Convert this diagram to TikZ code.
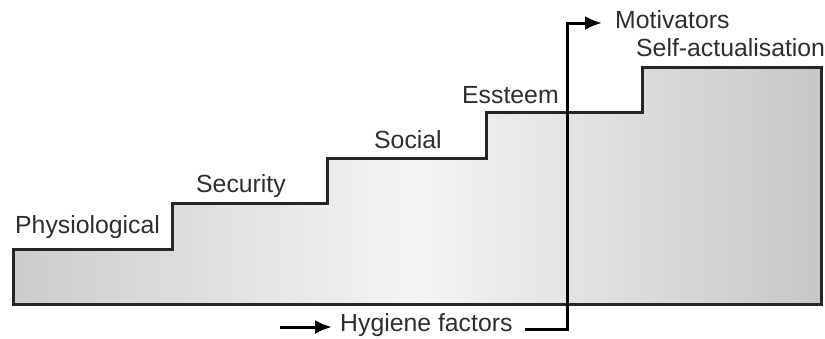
\documentclass[tikz,border=0pt]{standalone}
\usepackage{fontspec}
\setmainfont{Liberation Sans}
\usetikzlibrary{arrows.meta}
\begin{document}
\begin{tikzpicture}[x=1pt,y=-1pt,
  lbl/.style={font=\fontsize{24.8}{27}\selectfont, text=black!82, inner sep=0pt},
  stair/.style={draw=black!85, line width=3pt, line join=miter},
  flow/.style={draw=black, line width=3pt, -{Latex[length=17pt,width=14pt]}},
  plainline/.style={draw=black, line width=3pt}]
\useasboundingbox (0,0) rectangle (825,338);
\path[left color=black!20, right color=black!22, middle color=black!4]
  (13,304) -- (13,249) -- (172,249) -- (172,203) -- (327,203) -- (327,158) -- (486,158) -- (486,112) -- (642,112) -- (642,67) -- (821,67) -- (821,304) -- cycle;
\draw[stair] (13,304) -- (13,249) -- (172,249) -- (172,203) -- (327,203) -- (327,158) -- (486,158) -- (486,112) -- (642,112) -- (642,67) -- (821,67) -- (821,304) -- cycle;
\node[lbl, anchor=west] (phys) at (15,227) {Physiological};
\node[lbl, anchor=west] (sec) at (196,186) {Security};
\node[lbl, anchor=west] (soc) at (374,140) {Social};
\node[lbl, anchor=west] (est) at (462,95) {Essteem};
\node[lbl, anchor=west] (self) at (636,48) {Self-actualisation};
\node[lbl, anchor=west] (mot) at (615,20) {Motivators};
\node[lbl, anchor=west] (hyg) at (340,325) {Hygiene factors};
\coordinate (hin) at (280,327);
\coordinate (cbot) at (567,329);
\coordinate (ctop) at (567,23);
\draw[flow] (hin) -- ([xshift=-8pt]hin -| hyg.west);
\draw[plainline] ([xshift=12pt]hyg.east |- cbot) -- (cbot) -- (ctop);
\draw[flow] ([xshift=-1.5pt]ctop) -- ([xshift=-13pt]ctop -| mot.west);
\end{tikzpicture}
\end{document}
